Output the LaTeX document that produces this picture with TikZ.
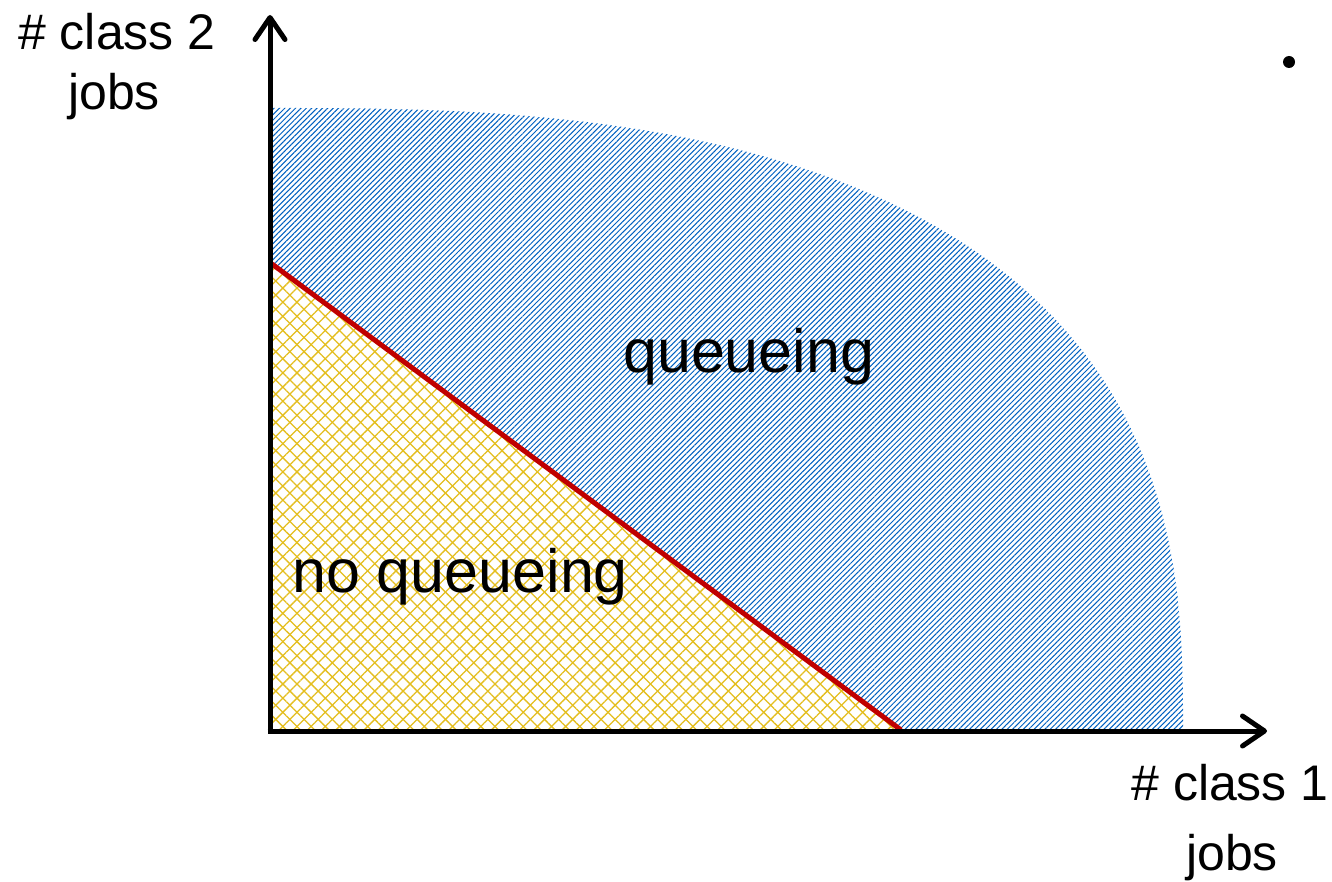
\documentclass[tikz,border=0pt]{standalone}
\usepackage{fontspec}
\setmainfont{Liberation Sans}
\usetikzlibrary{patterns.meta,arrows.meta}
\definecolor{qblue}{RGB}{0,96,192}
\definecolor{nyellow}{RGB}{228,190,30}
\definecolor{redline}{RGB}{192,0,0}
\tikzset{
  axis/.style={line width=5pt,-{Straight Barb[length=22pt,width=30pt,round]}},
  biglabel/.style={inner sep=0pt,font=\fontsize{61}{70}\selectfont,anchor=base west},
  axlabel/.style={inner sep=0pt,font=\fontsize{50}{60}\selectfont,anchor=base},
  bluehatch/.style={pattern={Lines[angle=45,distance=3.8pt,line width=1.0pt]},pattern color=qblue},
  yellowhatch/.style={pattern={Lines[angle=#1,distance=10pt,line width=1.3pt]},pattern color=nyellow}
}
\begin{document}
\begin{tikzpicture}[x=1pt,y=-1pt]
\useasboundingbox (0,0) rectangle (1332,882);
% queueing region
\fill[bluehatch] (272,731) -- (272,108)
  -- plot[domain=0.5:89.5,samples=80,variable=\t]
     ({270+913*pow(sin(\t),0.75)},{731-623*pow(cos(\t),0.75)})
  -- (1183,731) -- cycle;
% no queueing region
\coordinate (r1) at (272,264);
\coordinate (r2) at (901,730);
\fill[white] (272,731) -- (r1) -- (r2) -- cycle;
\fill[yellowhatch=45] (272,731) -- (r1) -- (r2) -- cycle;
\fill[yellowhatch=-45] (272,731) -- (r1) -- (r2) -- cycle;
\draw[redline,line width=5pt] (r1) -- (r2);
% axes
\coordinate (origin) at (270,731);
\coordinate (ytip) at (270,15);
\coordinate (xtip) at (1267,731);
\draw[axis] ([yshift=-2.5pt]origin) -- (ytip);
\draw[axis] ([xshift=-2.5pt]origin) -- (xtip);
% labels
\node[biglabel] (q) at (623,372) {queueing};
\node[biglabel] (nq) at (292,592) {no queueing};
\node[axlabel] (y1) at (117,50) {\# class 2};
\node[axlabel] (y2) at (114,110) {jobs};
\node[axlabel] (x1) at (1230,800) {\# class 1};
\node[axlabel] (x2) at (1232,870) {jobs};
\node[circle,fill=black,inner sep=0pt,minimum size=12pt] (dot) at (1289,62) {};
\end{tikzpicture}
\end{document}
